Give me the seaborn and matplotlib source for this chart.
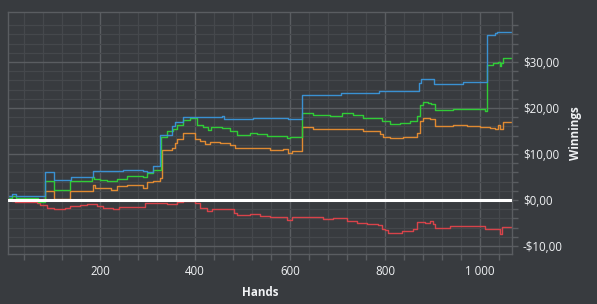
import matplotlib
matplotlib.use("Agg")
import matplotlib.pyplot as plt
import matplotlib.ticker as mticker
import numpy as np
import pandas as pd
import seaborn as sns

# ---- data: breakpoints (hand, cumulative winnings) of step series ----
blue_hands = [6, 14, 22, 83, 102, 139, 184, 249, 291, 298, 311, 326, 351, 358, 375,
              456, 460, 523, 596, 625, 707, 788, 872, 877, 903, 964, 1014, 1031, 1037]
blue_vals = [0.9, 1.3, 0.9, 6.0, 4.4, 5.1, 6.3, 6.5, 6.3, 6.1, 7.3, 14.2, 16.1, 16.9, 18.0,
             18.2, 17.6, 17.8, 17.6, 22.9, 23.3, 23.8, 25.4, 26.2, 25.3, 25.7, 35.8, 36.4, 36.6]

green_hands = [6, 14, 22, 70, 84, 102, 137, 182, 188, 200, 214, 235, 256, 291, 298, 312, 328,
               340, 353, 361, 375, 389, 404, 417, 428, 434, 456, 474, 488, 516, 530, 551, 593,
               600, 625, 649, 684, 709, 733, 754, 786, 793, 811, 832, 853, 867, 874, 880, 891,
               898, 905, 943, 1010, 1014, 1028, 1038, 1042, 1045, 1048]
green_vals = [0.4, 0.9, 0.4, -0.4, 4.1, 2.2, 4.1, 5.1, 4.6, 4.4, 4.1, 4.6, 5.3, 4.9, 5.8, 6.6, 13.7,
              14.9, 15.4, 16.4, 17.4, 17.8, 16.4, 15.9, 15.3, 15.8, 15.6, 14.9, 14.2, 14.5, 14.3, 14.0, 13.5,
              13.8, 19.0, 18.5, 18.2, 18.9, 18.5, 17.9, 17.8, 17.1, 16.5, 16.7, 17.2, 18.2, 20.7, 21.3, 21.0,
              20.8, 19.6, 19.7, 19.3, 29.4, 29.7, 30.0, 29.2, 29.8, 30.9]

orange_hands = [6, 14, 70, 84, 102, 137, 184, 190, 214, 222, 235, 256, 291, 298, 312, 326,
                330, 351, 358, 361, 375, 400, 411, 421, 432, 453, 474, 484, 502, 558, 586, 596,
                604, 625, 649, 705, 754, 790, 796, 811, 838, 860, 867, 874, 880, 895, 905, 944,
                972, 1000, 1021, 1031, 1038, 1043, 1048]
orange_vals = [0.2, 0.1, -0.2, 2.0, 0.2, 2.0, 3.3, 2.7, 2.6, 2.2, 3.1, 3.3, 2.7, 3.9, 4.1, 4.7,
               10.8, 11.3, 12.4, 13.2, 14.5, 13.3, 12.9, 12.1, 12.6, 12.5, 12.0, 11.3, 11.4, 10.9, 11.0, 10.2,
               10.6, 15.9, 15.4, 15.4, 15.0, 14.3, 13.8, 13.4, 13.7, 13.8, 14.5, 17.1, 17.8, 17.6, 16.0, 16.2,
               16.1, 15.8, 15.6, 15.4, 16.4, 15.4, 16.9]

red_hands = [6, 14, 21, 67, 74, 88, 102, 126, 137, 158, 172, 193, 207, 228, 239, 295, 340,
             362, 375, 400, 411, 425, 435, 481, 488, 516, 537, 558, 594, 604, 670, 691, 720,
             741, 762, 786, 793, 800, 807, 835, 860, 867, 884, 895, 902, 905, 937, 1011, 1043, 1047]
red_vals = [-0.1, -0.2, -0.5, -0.7, -1.1, -1.7, -1.9, -1.8, -1.3, -1.1, -0.9, -1.3, -1.7, -2.0, -1.5, -0.7, -0.8,
            -0.5, -0.2, -0.7, -1.7, -2.4, -2.0, -2.9, -3.3, -3.1, -3.4, -3.8, -4.4, -3.7, -4.2, -4.0, -4.5,
            -4.9, -5.3, -5.5, -6.2, -6.5, -7.1, -6.8, -6.3, -4.7, -5.1, -4.5, -5.3, -6.0, -5.7, -6.4, -7.3, -5.8]

series_names = ["red", "orange", "green", "blue"]
series_colors = {"blue": "#3a91d2", "green": "#30cc36", "orange": "#e08a32", "red": "#d8434a"}
x_ticks = [200, 400, 600, 800, 1000]
y_ticks = [-10, 0, 10, 20, 30]
x_max = 1067

def build(name, hands, vals):
    h = list(hands) + [x_max]
    v = list(vals) + [vals[-1]]
    return pd.DataFrame({"hand": h, "win": v, "series": name})

df = pd.concat([
    build("red", red_hands, red_vals),
    build("orange", orange_hands, orange_vals),
    build("green", green_hands, green_vals),
    build("blue", blue_hands, blue_vals),
], ignore_index=True)

# ---- style ----
bg = "#383b3f"
minor_grid = "#45484c"
major_grid = "#5a5d61"
text_col = "#f0f2f4"

sns.set_theme(style="dark")
plt.rcParams["font.family"] = ["Open Sans", "DejaVu Sans"]

fig = plt.figure(figsize=(5.97, 3.04), dpi=100, facecolor=bg)
ax = fig.add_axes([8 / 597, 1 - 254.3 / 304, (511.7 - 8) / 597, (254.3 - 12.3) / 304])
ax.set_facecolor(bg)

ax.set_xlim(6, x_max)
ax.set_ylim(-11.8, 40.8)

ax.xaxis.set_major_locator(mticker.FixedLocator(x_ticks))
ax.xaxis.set_minor_locator(mticker.MultipleLocator(40))
ax.yaxis.set_major_locator(mticker.FixedLocator(y_ticks))
ax.yaxis.set_minor_locator(mticker.FixedLocator(list(range(-10, 39, 2))))

ax.grid(which="minor", color=minor_grid, linewidth=0.9)
ax.grid(which="major", color=major_grid, linewidth=1.0)
ax.set_axisbelow(True)

sns.lineplot(data=df, x="hand", y="win", hue="series", hue_order=series_names,
             palette=series_colors, estimator=None, sort=False, drawstyle="steps-post",
             linewidth=1.0, legend=False, ax=ax)

ax.axhline(0, color="white", linewidth=2.2, zorder=5)

for s in ax.spines.values():
    s.set_visible(True)
    s.set_color(major_grid)
    s.set_linewidth(1.0)

ax.yaxis.tick_right()
ax.yaxis.set_label_position("right")
ax.tick_params(axis="both", which="both", direction="out", length=4, width=1.0,
               color=major_grid, labelcolor=text_col, labelsize=8.3)
ax.tick_params(axis="x", which="both", bottom=True, top=False, pad=4)
ax.tick_params(axis="y", which="both", right=True, left=False, pad=4)

def money(v, pos):
    s = f"${abs(v):.2f}".replace(".", ",")
    return ("-" + s) if v < 0 else s

ax.yaxis.set_major_formatter(mticker.FuncFormatter(money))
ax.xaxis.set_major_formatter(mticker.FuncFormatter(lambda v, p: f"{v:,.0f}".replace(",", " ")))

ax.set_xlabel("Hands", color=text_col, fontsize=8.4, fontweight="bold")
ax.set_ylabel("Winnings", color=text_col, fontsize=8.4, fontweight="bold", rotation=90)
ax.xaxis.label.set_va("center")
ax.xaxis.set_label_coords(0.5, (254.3 - 292.7) / 242.0)
ax.yaxis.label.set_va("center")
ax.yaxis.label.set_ha("center")
ax.yaxis.set_label_coords((576 - 8) / 503.7, 0.5)

fig.savefig("out.png", dpi=100, facecolor=bg)
